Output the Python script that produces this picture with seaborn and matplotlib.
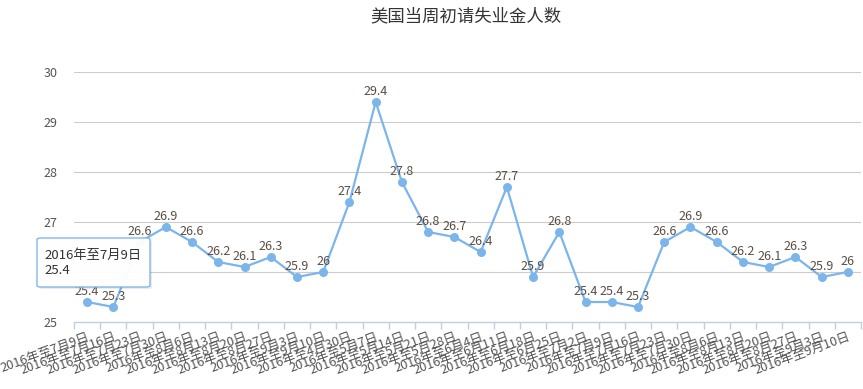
import matplotlib
matplotlib.use("Agg")
import matplotlib.pyplot as plt
import seaborn as sns
import pandas as pd
import numpy as np
from matplotlib.patches import FancyBboxPatch

dates = ["7月9日", "7月16日", "7月23日", "7月30日", "8月6日", "8月13日", "8月20日", "8月27日", "9月3日", "9月10日",
         "4月30日", "5月7日", "5月14日", "5月21日", "5月28日", "6月4日", "6月11日", "6月18日", "6月25日", "7月2日",
         "7月9日", "7月16日", "7月23日", "7月30日", "8月6日", "8月13日", "8月20日", "8月27日", "9月3日", "9月10日"]
labels = ["2016年至" + d for d in dates]
values = [25.4, 25.3, 26.6, 26.9, 26.6, 26.2, 26.1, 26.3, 25.9, 26.0,
          27.4, 29.4, 27.8, 26.8, 26.7, 26.4, 27.7, 25.9, 26.8, 25.4,
          25.4, 25.3, 26.6, 26.9, 26.6, 26.2, 26.1, 26.3, 25.9, 26.0]
title = "美国当周初请失业金人数"
yticks = [25, 26, 27, 28, 29, 30]
tooltip_label = "2016年至7月9日"
tooltip_value = "25.4"

sns.set_theme(style="white")
plt.rcParams['font.family'] = ['Noto Sans CJK SC', 'DejaVu Sans']

W, H = 863, 389
fig = plt.figure(figsize=(W / 100, H / 100), dpi=100)
ax = fig.add_axes([74 / W, 1 - 322 / H, (861 - 74) / W, (322 - 72) / H])

df = pd.DataFrame({"x": np.arange(len(values)), "y": values})
line_color = "#7cb5ec"
sns.lineplot(data=df, x="x", y="y", ax=ax, color=line_color, linewidth=1.6,
             marker="o", markersize=6.5, markeredgewidth=0, markerfacecolor=line_color)

for i, v in enumerate(values):
    txt = f"{v:g}"
    ax.annotate(txt, (i, v), xytext=(0, 3), textcoords="offset points",
                ha="center", va="bottom", fontsize=9, color="#5a4f45")

n = len(values)
ax.set_xlim(-0.5, n - 0.5)
ax.set_ylim(25, 30)
ax.set_yticks(yticks)
ax.set_yticklabels([str(t) for t in yticks], fontsize=9, color="#555555")
ax.tick_params(axis="y", length=0, pad=12)
for t in yticks[1:]:
    ax.axhline(t, color="#cccccc", linewidth=0.8, zorder=0)

ax.set_xticks(np.arange(n))
ax.set_xticklabels(labels, rotation=20, ha="right", va="top", rotation_mode="anchor",
                   fontsize=9.2, color="#555555")
ax.tick_params(axis="x", which="major", length=0, pad=6)
ax.set_xticks(np.arange(n + 1) - 0.5, minor=True)
ax.tick_params(axis="x", which="minor", length=5, color="#c0cfe0", width=1, bottom=True)

for s in ["top", "right", "left"]:
    ax.spines[s].set_visible(False)
ax.spines["bottom"].set_color("#c0cfe0")
ax.spines["bottom"].set_linewidth(1)
ax.set_xlabel("")
ax.set_ylabel("")

fig.text(466 / W, 1 - 16 / H, title, ha="center", va="center", fontsize=12.5, color="#333333")

# tooltip
shadow = FancyBboxPatch((39 / W, 1 - 289 / H), (150 - 37) / W, (287 - 238) / H,
                        boxstyle="round,pad=0,rounding_size=0.004", transform=fig.transFigure,
                        facecolor="#000000", edgecolor="none", alpha=0.08, zorder=9)
fig.patches.append(shadow)
box = FancyBboxPatch((37 / W, 1 - 287 / H), (150 - 37) / W, (287 - 238) / H,
                     boxstyle="round,pad=0,rounding_size=0.004", transform=fig.transFigure,
                     facecolor="white", edgecolor="#7cb5ec", linewidth=1, alpha=0.97, zorder=10)
fig.patches.append(box)
fig.text(44 / W, 1 - 255 / H, tooltip_label, ha="left", va="center", fontsize=9.5, color="#333333", zorder=11)
fig.text(44 / W, 1 - 271 / H, tooltip_value, ha="left", va="center", fontsize=9.5, color="#333333", zorder=11)

fig.savefig("out.png", dpi=100)
